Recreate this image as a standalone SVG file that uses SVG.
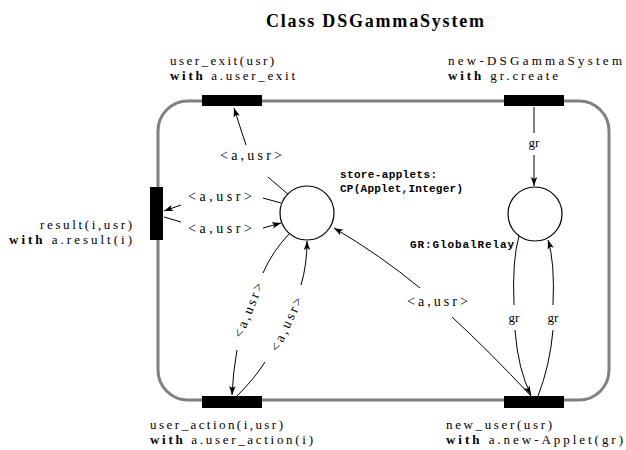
<svg xmlns="http://www.w3.org/2000/svg" width="626" height="450" viewBox="0 0 626 450">
  <defs>
    <marker id="arrow" markerUnits="userSpaceOnUse" markerWidth="10" markerHeight="8" refX="9" refY="4" orient="auto">
      <path d="M0,0.8 L9,4 L0,7.2 L2,4 Z" fill="#000"/>
    </marker>
  </defs>
  <style>
    .frame { fill: none; stroke: #808080; stroke-width: 3; }
    .bar { fill: #000; }
    .place { fill: #fff; stroke: #000; stroke-width: 1.2; }
    .arc { fill: none; stroke: #000; stroke-width: 1; }
    .lbl { font-family: "Liberation Serif", serif; font-size: 13px; fill: #000; }
    .tag { font-family: "Liberation Serif", serif; font-size: 14px; fill: #000; }
    .b { font-weight: bold; }
    .mono { font-family: "Liberation Mono", monospace; font-size: 11px; font-weight: bold; fill: #000; }
    .title { font-family: "Liberation Serif", serif; font-size: 18px; font-weight: bold; fill: #000; }
  </style>

  <rect width="626" height="450" fill="#fff"/>

  <text class="title" x="266" y="27" textLength="218" lengthAdjust="spacing">Class DSGammaSystem</text>

  <!-- class boundary -->
  <rect id="boundary" class="frame" x="158" y="101" width="451" height="299" rx="30" ry="30"/>

  <!-- connectors -->
  <g id="connectors">
    <!-- store-applets -> user_exit -->
    <path class="arc" d="M289,195 Q276,184 268,177"/>
    <path class="arc" d="M246,145 Q240,127 234,108" marker-end="url(#arrow)"/>
    <!-- store-applets -> result -->
    <path class="arc" d="M281,203 L263,198"/>
    <path class="arc" d="M181,205 L164,211" marker-end="url(#arrow)"/>
    <!-- result -> store-applets -->
    <path class="arc" d="M164,217 L181,222"/>
    <path class="arc" d="M263,228 L281,223" marker-end="url(#arrow)"/>
    <!-- store-applets -> user_action -->
    <path class="arc" d="M289,234 Q272,252 263,273"/>
    <path class="arc" d="M237,350 Q233,372 232,395" marker-end="url(#arrow)"/>
    <!-- user_action -> store-applets -->
    <path class="arc" d="M237,396 Q255,378 265,362"/>
    <path class="arc" d="M301,285 Q307,265 307,241" marker-end="url(#arrow)"/>
    <!-- new_user -> store-applets -->
    <path class="arc" d="M531,396 Q490,352 452,317"/>
    <path class="arc" d="M420,288 Q380,255 334,228" marker-end="url(#arrow)"/>
    <!-- new-DSGammaSystem -> GR -->
    <path class="arc" d="M534,107 L534,133"/>
    <path class="arc" d="M534,155 L534,186" marker-end="url(#arrow)"/>
    <!-- GR -> new_user -->
    <path class="arc" d="M519,236 Q512,260 514,305"/>
    <path class="arc" d="M515,330 Q518,370 531,395" marker-end="url(#arrow)"/>
    <!-- new_user -> GR -->
    <path class="arc" d="M538,396 Q550,365 553,330"/>
    <path class="arc" d="M553,305 Q555,262 548,240" marker-end="url(#arrow)"/>
  </g>

  <!-- connector labels -->
  <g id="connector-labels">
    <text class="tag" x="220" y="160" textLength="62" lengthAdjust="spacing">&lt;a,usr&gt;</text>
    <text class="tag" x="188" y="201" textLength="64" lengthAdjust="spacing">&lt;a,usr&gt;</text>
    <text class="tag" x="188" y="233" textLength="64" lengthAdjust="spacing">&lt;a,usr&gt;</text>
    <text class="tag" x="407" y="306" textLength="61" lengthAdjust="spacing">&lt;a,usr&gt;</text>
    <text class="tag" x="-29" y="5" textLength="58" lengthAdjust="spacing" transform="translate(248,310) rotate(-68)">&lt;a,usr&gt;</text>
    <text class="tag" x="-29" y="5" textLength="58" lengthAdjust="spacing" transform="translate(286,324) rotate(-65)">&lt;a,usr&gt;</text>
    <text class="lbl" x="534" y="147" text-anchor="middle">gr</text>
    <text class="lbl" x="514" y="322" text-anchor="middle">gr</text>
    <text class="lbl" x="553" y="322" text-anchor="middle">gr</text>
  </g>

  <!-- places -->
  <g id="store-applets">
    <circle class="place" cx="307" cy="213" r="27"/>
    <text class="mono" x="340" y="178" textLength="97" lengthAdjust="spacing">store-applets:</text>
    <text class="mono" x="340" y="192" textLength="123" lengthAdjust="spacing">CP(Applet,Integer)</text>
  </g>
  <g id="GR">
    <circle class="place" cx="535" cy="214" r="27"/>
    <text class="mono" x="410" y="248" textLength="104" lengthAdjust="spacing">GR:GlobalRelay</text>
  </g>

  <!-- transitions -->
  <g id="user_exit">
    <rect class="bar" x="202" y="95" width="60" height="11"/>
    <text class="lbl" x="170" y="65" textLength="104" lengthAdjust="spacing">user_exit(usr)</text>
    <text class="lbl" x="170" y="80" textLength="125" lengthAdjust="spacing"><tspan class="b">with</tspan> a.user_exit</text>
  </g>
  <g id="new-DSGammaSystem">
    <rect class="bar" x="504" y="95" width="60" height="11"/>
    <text class="lbl" x="448" y="65" textLength="174" lengthAdjust="spacing">new-DSGammaSystem</text>
    <text class="lbl" x="448" y="80" textLength="110" lengthAdjust="spacing"><tspan class="b">with</tspan> gr.create</text>
  </g>
  <g id="result">
    <rect class="bar" x="150" y="187" width="13" height="53"/>
    <text class="lbl" x="132" y="229" text-anchor="end" textLength="92" lengthAdjust="spacing">result(i,usr)</text>
    <text class="lbl" x="132" y="244" text-anchor="end" textLength="123" lengthAdjust="spacing"><tspan class="b">with</tspan> a.result(i)</text>
  </g>
  <g id="user_action">
    <rect class="bar" x="202" y="396" width="60" height="12"/>
    <text class="lbl" x="150" y="429" textLength="133" lengthAdjust="spacing">user_action(i,usr)</text>
    <text class="lbl" x="150" y="444" textLength="163" lengthAdjust="spacing"><tspan class="b">with</tspan> a.user_action(i)</text>
  </g>
  <g id="new_user">
    <rect class="bar" x="504" y="396" width="60" height="12"/>
    <text class="lbl" x="446" y="429" textLength="106" lengthAdjust="spacing">new_user(usr)</text>
    <text class="lbl" x="446" y="444" textLength="177" lengthAdjust="spacing"><tspan class="b">with</tspan> a.new-Applet(gr)</text>
  </g>
</svg>
